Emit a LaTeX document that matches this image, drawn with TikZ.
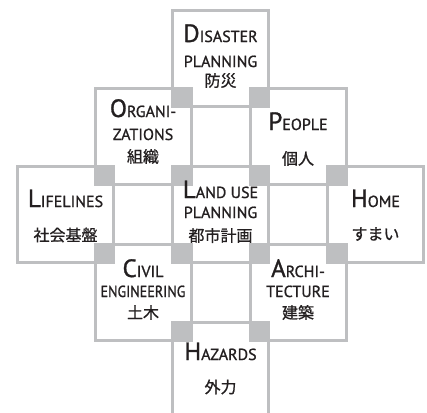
\documentclass[tikz,border=0pt]{standalone}
\usepackage{fontspec}
\usepackage{graphicx}
\setmainfont[FakeBold=1.1]{PT Sans}
\newfontfamily\cjk[FakeBold=0.9]{Noto Sans CJK JP}
\definecolor{lineg}{RGB}{190,191,193}
\definecolor{ink}{RGB}{35,31,32}
\newcommand\BL[1]{{\fontsize{25}{25}\selectfont #1}}
\newcommand\SL[1]{{\fontsize{16}{16}\selectfont #1}}
\begin{document}
\begin{tikzpicture}[x=1pt,y=-1pt,
  box/.style={draw=lineg, fill=white, line width=3pt, minimum width=96pt, minimum height=96pt, inner sep=0pt, outer sep=1.5pt},
  ov/.style={fill=lineg},
  ttl/.style={anchor=base, text=ink, inner sep=0pt},
  jp/.style={anchor=center, text=ink, inner sep=0pt, font=\cjk\fontsize{16}{16}\selectfont}]
\clip (0,0) rectangle (427,412);
\fill[white] (0,0) rectangle (427,412);
% boxes
\node[box] (dis) at (220.5,58.5) {};
\node[box] (org) at (143,136.5) {};
\node[box] (peo) at (298,136.5) {};
\node[box] (lif) at (65.5,214.5) {};
\node[box] (lan) at (220.5,214.5) {};
\node[box] (hom) at (375.5,214.5) {};
\node[box] (civ) at (143,292.5) {};
\node[box] (arc) at (298,292.5) {};
\node[box] (haz) at (220.5,370.5) {};
% overlaps
\fill[ov] (dis.south west) rectangle (org.north east);
\fill[ov] (dis.south east) rectangle (peo.north west);
\fill[ov] (org.south west) rectangle (lif.north east);
\fill[ov] (org.south east) rectangle (lan.north west);
\fill[ov] (peo.south west) rectangle (lan.north east);
\fill[ov] (peo.south east) rectangle (hom.north west);
\fill[ov] (lif.south east) rectangle (civ.north west);
\fill[ov] (lan.south west) rectangle (civ.north east);
\fill[ov] (lan.south east) rectangle (arc.north west);
\fill[ov] (hom.south west) rectangle (arc.north east);
\fill[ov] (civ.south east) rectangle (haz.north west);
\fill[ov] (arc.south west) rectangle (haz.north east);
% texts
\node[ttl] (disA) at (220.5,42) {\BL{D}\SL{ISASTER}};
\node[ttl] (disB) at (220.5,67) {\SL{PLANNING}};
\node[jp] (disJ) at (220.5,80.5) {防災};
\node[ttl] (orgA) at (143,117) {\BL{O}\SL{RGANI-}};
\node[ttl] (orgB) at (143,140) {\SL{ZATIONS}};
\node[jp] (orgJ) at (143,156.5) {組織};
\node[ttl] (peoA) at (298,130) {\BL{P}\SL{EOPLE}};
\node[jp] (peoJ) at (298,158.5) {個人};
\node[ttl] (lifA) at (65.5,207) {\BL{L}\SL{IFELINES}};
\node[jp] (lifJ) at (65.5,235) {社会基盤};
\node[ttl] (lanA) at (220.5,198) {\BL{L}\SL{AND USE}};
\node[ttl] (lanB) at (220.5,218) {\SL{PLANNING}};
\node[jp] (lanJ) at (220.5,235.5) {都市計画};
\node[ttl] (homA) at (375.5,207) {\BL{H}\SL{OME}};
\node[jp] (homJ) at (375.5,234) {すまい};
\node[ttl] (civA) at (143,277) {\BL{C}\SL{IVIL}};
\node[ttl] (civB) at (143,297) {\scalebox{0.88}[1]{\SL{ENGINEERING}}};
\node[jp] (civJ) at (143,312.5) {土木};
\node[ttl] (arcA) at (298,277) {\BL{A}\SL{RCHI-}};
\node[ttl] (arcB) at (298,297) {\SL{TECTURE}};
\node[jp] (arcJ) at (298,312.5) {建築};
\node[ttl] (hazA) at (220.5,360) {\BL{H}\SL{AZARDS}};
\node[jp] (hazJ) at (220.5,387) {外力};
\end{tikzpicture}
\end{document}
